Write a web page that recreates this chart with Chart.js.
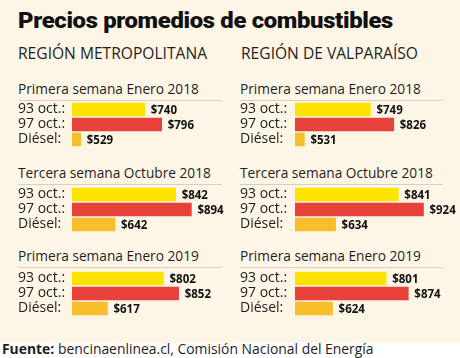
<!DOCTYPE html>
<html>
<head>
<meta charset="utf-8">
<script src="https://cdn.jsdelivr.net/npm/chart.js@4"></script>
<style>
  html, body { margin: 0; padding: 0; }
  body { width: 460px; height: 358px; position: relative; overflow: hidden; background: #fdf6e6; font-family: "Open Sans", sans-serif; color: #1e1e1e; }
  .abs { position: absolute; white-space: nowrap; }
  #title { left: 18px; top: 6px; font-family: Roboto, sans-serif; font-weight: 900; font-size: 22px; line-height: 30px; color: #111; transform-origin: 0 0; letter-spacing: -0.3px; }
  .region { font-size: 15.6px; line-height: 18px; top: 44px; }
  .ptitle { font-size: 13.7px; line-height: 18px; border-bottom: 1px solid #d9cfbf; padding-bottom: 2px; }
  #footer { left: 0; top: 343px; width: 460px; height: 15px; background: #fff; }
  #footer span { position: absolute; left: 2px; top: -4px; font-size: 13.9px; line-height: 20px; white-space: nowrap; }
  canvas { position: absolute; }
</style>
</head>
<body>
<div id="title" class="abs">Precios promedios de combustibles</div>
<div class="abs region" style="left:18px">REGIÓN METROPOLITANA</div>
<div class="abs region" style="left:241px">REGIÓN DE VALPARAÍSO</div>
<div id="panels"></div>
<div id="footer" class="abs"><span><b>Fuente:</b> bencinaenlinea.cl, Comisión Nacional del Energía</span></div>
<script>
// ---- Data ----
const categories = ['93 oct.:', '97 oct.:', 'Diésel:'];
const periods = ['Primera semana Enero 2018', 'Tercera semana Octubre 2018', 'Primera semana Enero 2019'];
const regions = ['REGIÓN METROPOLITANA', 'REGIÓN DE VALPARAÍSO'];
const metropolitana = [
  [740, 796, 529],
  [842, 894, 642],
  [802, 852, 617]
];
const valparaiso = [
  [749, 826, 531],
  [841, 924, 634],
  [801, 874, 624]
];
const barColors = ['#fde400', '#e8413a', '#f8be2b'];

// ---- Layout ----
const columns = [
  { left: 18, axisW: 54, width: 212, data: metropolitana },
  { left: 240, axisW: 55, width: 220, data: valparaiso }
];
const panelTops = [102, 187, 271];   // top of bar area
const titleTops = [80, 164, 247];
const xMin = 500, xMax = 1000, pxPerUnit = 0.303;
const PAD = 12, AREA_H = 45;

const valueLabels = {
  id: 'valueLabels',
  afterDatasetsDraw(chart) {
    const ctx = chart.ctx;
    const meta = chart.getDatasetMeta(0);
    ctx.save();
    ctx.font = 'bold 11.5px "Open Sans", sans-serif';
    ctx.fillStyle = '#111';
    ctx.textBaseline = 'middle';
    ctx.textAlign = 'left';
    meta.data.forEach((bar, i) => {
      const v = chart.data.datasets[0].data[i];
      ctx.fillText('$' + v, bar.x + 6, bar.y + 1.5);
    });
    ctx.restore();
  }
};

const panels = document.getElementById('panels');
columns.forEach((col, c) => {
  const lineW = c === 0 ? 204 : 203;
  periods.forEach((p, r) => {
    const t = document.createElement('div');
    t.className = 'abs ptitle';
    t.style.left = col.left + 'px';
    t.style.top = titleTops[r] + 'px';
    t.style.width = lineW + 'px';
    t.textContent = p;
    panels.appendChild(t);

    const cv = document.createElement('canvas');
    const H = AREA_H + 2 * PAD;
    cv.width = col.width; cv.height = H;
    cv.style.left = col.left + 'px';
    cv.style.top = (panelTops[r] - PAD) + 'px';
    cv.style.width = col.width + 'px'; cv.style.height = H + 'px';
    panels.appendChild(cv);
    const areaW = (xMax - xMin) * pxPerUnit;
    new Chart(cv, {
      type: 'bar',
      data: {
        labels: categories,
        datasets: [{ data: col.data[r], backgroundColor: barColors, barThickness: 13, borderWidth: 0 }]
      },
      options: {
        indexAxis: 'y',
        responsive: false,
        animation: false,
        devicePixelRatio: 1,
        layout: { padding: { left: 0, right: col.width - col.axisW - areaW, top: PAD, bottom: PAD } },
        plugins: { legend: { display: false }, tooltip: { enabled: false }, title: { display: false } },
        scales: {
          x: { display: false, min: xMin, max: xMax },
          y: {
            grid: { display: false },
            border: { display: false },
            ticks: { autoSkip: false, crossAlign: 'far', padding: 0, color: '#1e1e1e', font: { family: '"Open Sans", sans-serif', size: 14 } },
            afterFit(scale) { scale.width = col.axisW; }
          }
        }
      },
      plugins: [valueLabels]
    });
  });
});

// fit title width
const tEl = document.getElementById('title');
const w = tEl.getBoundingClientRect().width;
tEl.style.transform = 'scaleX(' + (375 / w) + ')';
</script>
</body>
</html>
